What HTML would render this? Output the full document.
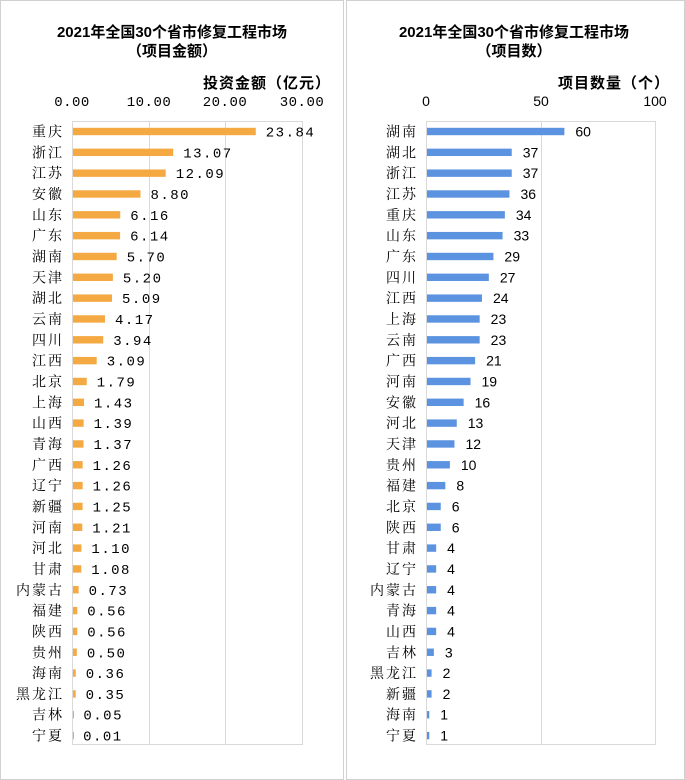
<!DOCTYPE html>
<html><head><meta charset="utf-8"><style>
body{margin:0;background:#fff;width:685px;height:780px;overflow:hidden}
svg{display:block}
.t{font-family:"Liberation Sans","Noto Sans CJK SC",sans-serif;font-weight:bold;font-size:15px;fill:#000}
.c{font-family:"Liberation Serif","Noto Serif CJK SC",serif;font-size:14px;fill:#000;letter-spacing:2px}
.v{font-family:"Liberation Mono","Noto Sans CJK SC",monospace;font-size:14px;fill:#000;letter-spacing:1.5px}
.k{font-family:"Liberation Mono",monospace;font-size:14px;fill:#000;letter-spacing:0.5px}
.n{font-family:"Liberation Sans",sans-serif;font-size:14px;fill:#000}
</style></head><body>
<svg id="s" width="685" height="780" xmlns="http://www.w3.org/2000/svg">
<rect x="0.5" y="0.5" width="343" height="779" fill="none" stroke="#d0d0d0"/>
<rect x="346.5" y="0.5" width="338" height="779" fill="none" stroke="#d0d0d0"/>
<text class="t" x="172" y="37" text-anchor="middle">2021年全国30个省市修复工程市场</text>
<text class="t" x="172" y="56" text-anchor="middle">（项目金额）</text>
<text class="t" x="331" y="88" text-anchor="end" font-size="14" letter-spacing="1">投资金额（亿元）</text>
<text class="t" x="514" y="37" text-anchor="middle">2021年全国30个省市修复工程市场</text>
<text class="t" x="514" y="56" text-anchor="middle">（项目数）</text>
<text class="t" x="670" y="88" text-anchor="end" font-size="14" letter-spacing="1">项目数量（个）</text>
<g id="g"></g>
</svg>
<script>
var L=[["重庆","23.84"],["浙江","13.07"],["江苏","12.09"],["安徽","8.80"],["山东","6.16"],["广东","6.14"],["湖南","5.70"],["天津","5.20"],["湖北","5.09"],["云南","4.17"],["四川","3.94"],["江西","3.09"],["北京","1.79"],["上海","1.43"],["山西","1.39"],["青海","1.37"],["广西","1.26"],["辽宁","1.26"],["新疆","1.25"],["河南","1.21"],["河北","1.10"],["甘肃","1.08"],["内蒙古","0.73"],["福建","0.56"],["陕西","0.56"],["贵州","0.50"],["海南","0.36"],["黑龙江","0.35"],["吉林","0.05"],["宁夏","0.01"]];
var R=[["湖南",60],["湖北",37],["浙江",37],["江苏",36],["重庆",34],["山东",33],["广东",29],["四川",27],["江西",24],["上海",23],["云南",23],["广西",21],["河南",19],["安徽",16],["河北",13],["天津",12],["贵州",10],["福建",8],["北京",6],["陕西",6],["甘肃",4],["辽宁",4],["内蒙古",4],["青海",4],["山西",4],["吉林",3],["黑龙江",2],["新疆",2],["海南",1],["宁夏",1]];
var h='';
h+='<rect x="72.5" y="121.5" width="230" height="623" fill="none" stroke="#d9d9d9"/>';
[149,225].forEach(x=>h+='<line x1="'+(x+.5)+'" y1="121" x2="'+(x+.5)+'" y2="744" stroke="#d9d9d9"/>');
[["0.00",72],["10.00",149],["20.00",225],["30.00",302]].forEach(a=>h+='<text class="k" x="'+a[1]+'" y="106" text-anchor="middle">'+a[0]+'</text>');
h+='<rect x="426.5" y="121.5" width="229" height="623" fill="none" stroke="#d9d9d9"/>';
h+='<line x1="541.5" y1="121" x2="541.5" y2="744" stroke="#d9d9d9"/>';
[["0",426],["50",541],["100",655]].forEach(a=>h+='<text class="n" x="'+a[1]+'" y="106" text-anchor="middle">'+a[0]+'</text>');
for(var i=0;i<30;i++){
 var y=131.5+i*20.83;
 var w=parseFloat(L[i][1])*230/30;
 h+='<rect x="73" y="'+(y-3.7)+'" width="'+Math.max(w,1)+'" height="7.4" fill="#f4a942"/>';
 h+='<text class="c" x="64" y="'+(y+5)+'" text-anchor="end">'+L[i][0]+'</text>';
 h+='<text class="v" x="'+(73+w+10)+'" y="'+(y+5)+'">'+L[i][1]+'</text>';
 var w2=R[i][1]*229/100;
 h+='<rect x="427" y="'+(y-3.7)+'" width="'+w2+'" height="7.4" fill="#5b93e0"/>';
 h+='<text class="c" x="418" y="'+(y+5)+'" text-anchor="end">'+R[i][0]+'</text>';
 h+='<text class="n" x="'+(427+w2+11)+'" y="'+(y+5)+'">'+R[i][1]+'</text>';
}
document.getElementById('g').innerHTML=h;
</script>
</body></html>
